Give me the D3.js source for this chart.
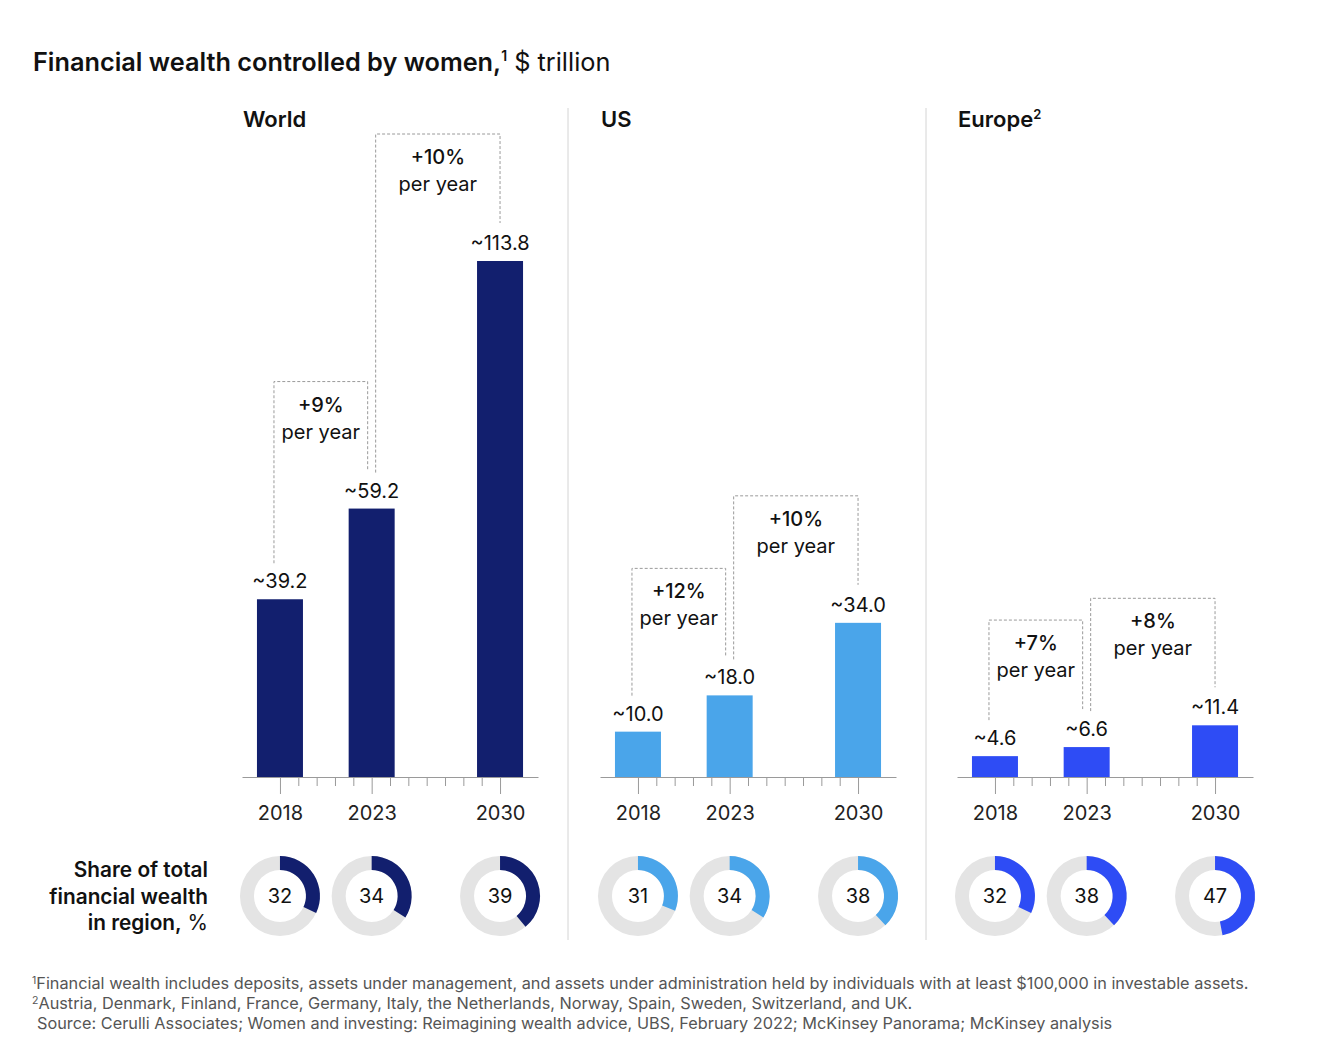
<!DOCTYPE html>
<html><head><meta charset="utf-8">
<script src="https://cdn.jsdelivr.net/npm/d3@7"></script>
<style>
body{margin:0;background:#fff;}
text{font-family:Inter,"Liberation Sans",Arial,sans-serif;}
</style></head>
<body><svg id="c" width="1341" height="1060"></svg>
<script>
// ---- data ----
const regions = ["World", "US", "Europe"];
const regionSup = ["", "", "2"];
const years = [2018, 2023, 2030];
const worldValues = [39.2, 59.2, 113.8];
const usValues = [10.0, 18.0, 34.0];
const europeValues = [4.6, 6.6, 11.4];
const worldShare = [32, 34, 39];
const usShare = [31, 34, 38];
const europeShare = [32, 38, 47];
const worldGrowth = ["+9%", "+10%"];
const usGrowth = ["+12%", "+10%"];
const europeGrowth = ["+7%", "+8%"];
const colors = ["#121f6e", "#4aa5ea", "#2e4cf5"];
const allYears = d3.range(2018, 2031);

const values = [worldValues, usValues, europeValues];
const shares = [worldShare, usShare, europeShare];
const growth = [worldGrowth, usGrowth, europeGrowth];

const svg = d3.select("#c");
const ink = "#111";
const FONT = "Inter, Liberation Sans, Arial, sans-serif";

// title
const t = svg.append("text").attr("x", 33).attr("y", 71).attr("font-size", 25.3).attr("fill", ink);
t.append("tspan").attr("font-weight", 600).text("Financial wealth controlled by women,");
t.append("tspan").attr("font-weight", 600).attr("font-size", 14).attr("dy", -10).text("1");
t.append("tspan").attr("dy", 10).text(" $ trillion");

const panelOffsets = [0, 358, 715];
const baseY = 777;
const y = d3.scaleLinear().domain([0, 113.8]).range([baseY, 261]);
const barW = 46;

// separators
[568, 926].forEach(sx => svg.append("line").attr("x1", sx).attr("x2", sx).attr("y1", 108).attr("y2", 940)
  .attr("stroke", "#d4d4d4").attr("stroke-width", 1));

regions.forEach((r, i) => {
  const off = panelOffsets[i];
  const x = d3.scaleLinear().domain([2015.93, 2032.07]).range([242 + off, 538 + off]);
  const g = svg.append("g");

  // panel title
  const pt = g.append("text").attr("x", 243 + off).attr("y", 127).attr("font-size", 22).attr("font-weight", 600).attr("fill", ink);
  pt.append("tspan").text(r);
  if (regionSup[i]) pt.append("tspan").attr("font-size", 13).attr("dy", -8).text(regionSup[i]);

  // axis
  const ax = g.append("g").attr("transform", `translate(0,${baseY})`)
    .call(d3.axisBottom(x).tickValues(allYears).tickSizeOuter(0)
      .tickFormat(d => years.includes(d) ? d : ""));
  ax.select(".domain").attr("stroke", "#9a9a9a");
  ax.selectAll(".tick line").attr("stroke", "#9a9a9a")
    .attr("y2", d => years.includes(d) ? 17 : 9);
  ax.selectAll(".tick text").attr("font-size", 20).attr("fill", "#222")
    .attr("font-family", FONT).attr("y", 29).attr("dy", "0.71em");

  // bars
  g.selectAll("rect.bar").data(values[i]).join("rect")
    .attr("x", (d, j) => x(years[j]) - barW / 2).attr("width", barW)
    .attr("y", d => y(d)).attr("height", d => baseY - y(d)).attr("fill", colors[i]);

  // value labels
  g.selectAll("text.val").data(values[i]).join("text")
    .attr("x", (d, j) => x(years[j])).attr("y", d => y(d) - 11)
    .attr("text-anchor", "middle").attr("font-size", 20).attr("fill", ink)
    .text(d => "~" + d3.format(".1f")(d));

  // growth boxes
  growth[i].forEach((gtxt, k) => {
    const xa = x(years[k]) + (k === 0 ? -6 : 4);
    const xb = x(years[k + 1]) + (k === 0 ? -4 : 0);
    const top = y(values[i][k + 1]) - 127;
    const botA = y(values[i][k]) - 36;
    const botB = y(values[i][k + 1]) - 38;
    g.append("path").attr("d", `M${xa},${botA}V${top}H${xb}V${botB}`)
      .attr("fill", "none").attr("stroke", "#9a9a9a").attr("stroke-width", 1).attr("stroke-dasharray", "3,2");
    const cx = (xa + xb) / 2;
    g.append("text").attr("x", cx).attr("y", top + 30).attr("text-anchor", "middle")
      .attr("font-size", 20).attr("font-weight", 500).attr("fill", ink).text(gtxt);
    g.append("text").attr("x", cx).attr("y", top + 57).attr("text-anchor", "middle")
      .attr("font-size", 20).attr("fill", ink).text("per year");
  });

  // donuts
  const arcBg = d3.arc().innerRadius(26).outerRadius(40).startAngle(0).endAngle(2 * Math.PI);
  shares[i].forEach((s, j) => {
    const dg = g.append("g").attr("transform", `translate(${x(years[j])},896)`);
    dg.append("path").attr("d", arcBg()).attr("fill", "#e4e4e4");
    const arc = d3.arc().innerRadius(26).outerRadius(40).startAngle(0).endAngle(2 * Math.PI * s / 100);
    dg.append("path").attr("d", arc()).attr("fill", colors[i]);
    dg.append("text").attr("text-anchor", "middle").attr("dy", "0.36em").attr("font-size", 20).attr("fill", ink).text(s);
  });
});

// share label
const sl = ["Share of total", "financial wealth", "in region,"];
sl.forEach((s, k) => {
  const tx = svg.append("text").attr("x", 208).attr("y", 877 + k * 26.5).attr("text-anchor", "end")
    .attr("font-size", 20.8).attr("fill", ink);
  tx.append("tspan").attr("font-weight", 600).text(s);
  if (k === 2) tx.append("tspan").text(" %");
});

// footnotes
const fn = svg.append("g").attr("fill", "#555").attr("font-size", 16.3);
const f1 = fn.append("text").attr("x", 32).attr("y", 989);
f1.append("tspan").attr("font-size", 10.5).attr("dy", -5).text("1");
f1.append("tspan").attr("dy", 5).text("Financial wealth includes deposits, assets under management, and assets under administration held by individuals with at least $100,000 in investable assets.");
const f2 = fn.append("text").attr("x", 32).attr("y", 1009);
f2.append("tspan").attr("font-size", 10.5).attr("dy", -5).text("2");
f2.append("tspan").attr("dy", 5).text("Austria, Denmark, Finland, France, Germany, Italy, the Netherlands, Norway, Spain, Sweden, Switzerland, and UK.");
fn.append("text").attr("x", 37).attr("y", 1029).text("Source: Cerulli Associates; Women and investing: Reimagining wealth advice, UBS, February 2022; McKinsey Panorama; McKinsey analysis");
</script></body></html>
